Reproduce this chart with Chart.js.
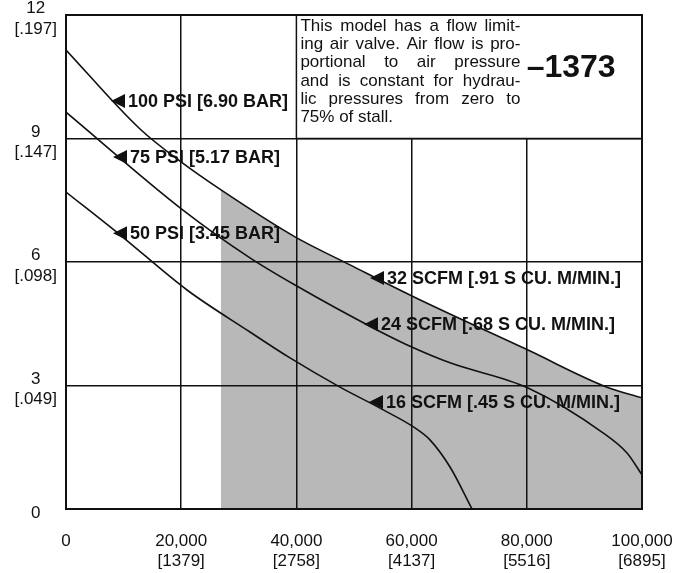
<!DOCTYPE html>
<html>
<head>
<meta charset="utf-8">
<script src="https://cdn.jsdelivr.net/npm/chart.js@4"></script>
<style>
body{margin:0;background:#fff}
#wrap{width:697px;height:573px}
</style>
</head>
<body>
<div id="wrap"><canvas id="chart"></canvas></div>
<script>
// Achsenbeschriftung
const xTickLabels = ['0', '20,000', '40,000', '60,000', '80,000', '100,000'];
const xTickSub = ['', '[1379]', '[2758]', '[4137]', '[5516]', '[6895]'];
const yTickLabels = ['0', '3', '6', '9', '12'];
const yTickSub = ['', '[.049]', '[.098]', '[.147]', '[.197]'];

// Kurven
const psi100X = [0, 12850, 19970, 26910, 39760, 49310, 60420, 80210, 93920, 100000];
const psi100Y = [11.15, 9.23, 8.43, 7.75, 6.61, 5.93, 5.15, 3.86, 2.96, 2.7];
const psi75X = [0, 20310, 31940, 39760, 53990, 60420, 66670, 80210, 93230, 97400, 100000];
const psi75Y = [9.64, 7.26, 6.10, 5.44, 4.35, 3.91, 3.55, 2.94, 1.85, 1.36, 0.83];
const psi50X = [0, 9370, 21010, 31940, 38890, 47570, 54510, 60590, 63190, 66670, 70500];
const psi50Y = [7.70, 6.66, 5.32, 4.30, 3.67, 2.96, 2.45, 1.97, 1.68, 1.02, 0];

// grauer Bereich (unter der 100-PSI-Kurve)
const shadeX = [26910, 39760, 49310, 60420, 80210, 93920, 100000];
const shadeY = [7.75, 6.61, 5.93, 5.15, 3.86, 2.96, 2.7];

// Kurvenbeschriftungen
const curveLabels = ['100 PSI [6.90 BAR]', '75 PSI [5.17 BAR]', '50 PSI [3.45 BAR]',
    '32 SCFM [.91 S CU. M/MIN.]', '24 SCFM [.68 S CU. M/MIN.]', '16 SCFM [.45 S CU. M/MIN.]'];
const labelX = [7810, 8160, 8160, 52780, 51740, 52600];
const labelY = [9.91, 8.55, 6.70, 5.61, 4.49, 2.60];

const noteLines = ['This model has a flow limit-', 'ing air valve. Air flow is pro-',
    'portional to air pressure', 'and is constant for hydrau-',
    'lic pressures from zero to', '75% of stall.'];
const modelNo = '\u20131373';

const FONT = '"Liberation Sans", Arial, Helvetica, sans-serif';
const INK = '#111';

function pts(xs, ys){
    return xs.map((x, i) => ({x: x, y: ys[i]}));
}

function curve(xs, ys){
    return {
        data: pts(xs, ys),
        borderColor: INK,
        borderWidth: 1.6,
        pointRadius: 0,
        fill: false,
        cubicInterpolationMode: 'monotone',
        order: 1
    };
}

// Textkasten, Rahmen und Pfeile
const overlay = {
    id: 'overlay',
    afterDraw(chart){
        const {ctx, chartArea: a, scales: {x, y}} = chart;
        ctx.save();

        const bx = x.getPixelForValue(40000);
        const by = y.getPixelForValue(9);
        ctx.fillStyle = '#fff';
        ctx.fillRect(bx, a.top, a.right - bx, by - a.top);
        ctx.strokeStyle = INK;
        ctx.lineWidth = 1.5;
        ctx.strokeRect(bx, a.top, a.right - bx, by - a.top);

        // Blocksatz
        ctx.fillStyle = INK;
        ctx.font = '17px ' + FONT;
        ctx.textBaseline = 'middle';
        ctx.textAlign = 'left';
        const tx0 = bx + 4, tw = 220;
        noteLines.forEach((line, i) => {
            const ly = a.top + 11 + i * 18.3;
            const words = line.split(' ');
            if(i === noteLines.length - 1 || words.length < 2){
                ctx.fillText(line, tx0, ly);
                return;
            }
            const wsum = words.reduce((s, w) => s + ctx.measureText(w).width, 0);
            const gap = (tw - wsum) / (words.length - 1);
            let cx = tx0;
            words.forEach(w => {
                ctx.fillText(w, cx, ly);
                cx += ctx.measureText(w).width + gap;
            });
        });

        ctx.font = 'bold 32px ' + FONT;
        ctx.textAlign = 'center';
        ctx.fillText(modelNo, x.getPixelForValue(87700), a.top + 53);

        // Rahmen
        ctx.lineWidth = 2;
        ctx.strokeRect(a.left, a.top, a.right - a.left, a.bottom - a.top);

        // Pfeile + Text
        ctx.font = 'bold 18px ' + FONT;
        ctx.textAlign = 'left';
        curveLabels.forEach((t, i) => {
            const px = x.getPixelForValue(labelX[i]);
            const py = y.getPixelForValue(labelY[i]);
            ctx.beginPath();
            ctx.moveTo(px, py);
            ctx.lineTo(px + 14, py - 7);
            ctx.lineTo(px + 14, py + 7);
            ctx.closePath();
            ctx.fill();
            ctx.fillText(t, px + 17, py + 1);
        });

        ctx.restore();
    }
};

new Chart(document.getElementById('chart'), {
    type: 'line',
    data: {
        datasets: [
            curve(psi100X, psi100Y),
            curve(psi75X, psi75Y),
            curve(psi50X, psi50Y),
            {
                data: pts(shadeX, shadeY),
                backgroundColor: '#b8b8b8',
                borderWidth: 0,
                pointRadius: 0,
                fill: 'origin',
                cubicInterpolationMode: 'monotone',
                order: 10
            }
        ]
    },
    options: {
        responsive: true,
        maintainAspectRatio: false,
        animation: false,
        layout: {padding: {left: 0, right: 55, top: 15, bottom: 0}},
        plugins: {
            legend: {display: false},
            tooltip: {enabled: false}
        },
        scales: {
            x: {
                type: 'linear',
                min: 0,
                max: 100000,
                afterFit(s){ s.height = 64; s.paddingLeft = 0; s.paddingRight = 0; },
                ticks: {
                    stepSize: 20000,
                    autoSkip: false,
                    maxRotation: 0,
                    padding: 23,
                    color: INK,
                    font: {family: FONT, size: 17, lineHeight: 1.15},
                    callback: (v, i) => xTickSub[i] ? [xTickLabels[i], xTickSub[i]] : xTickLabels[i]
                },
                grid: {color: INK, lineWidth: 1.5, drawTicks: false, z: 1},
                border: {display: false}
            },
            y: {
                type: 'linear',
                min: 0,
                max: 12,
                afterFit(s){ s.width = 66; s.paddingTop = 0; s.paddingBottom = 0; },
                ticks: {
                    stepSize: 3,
                    autoSkip: false,
                    padding: 9,
                    labelOffset: 4,
                    crossAlign: 'center',
                    color: INK,
                    font: {family: FONT, size: 17, lineHeight: 1.2},
                    callback: (v, i) => yTickSub[i] ? [yTickLabels[i], yTickSub[i]] : yTickLabels[i]
                },
                grid: {color: INK, lineWidth: 1.5, drawTicks: false, z: 1},
                border: {display: false}
            }
        }
    },
    plugins: [overlay]
});
</script>
</body>
</html>
